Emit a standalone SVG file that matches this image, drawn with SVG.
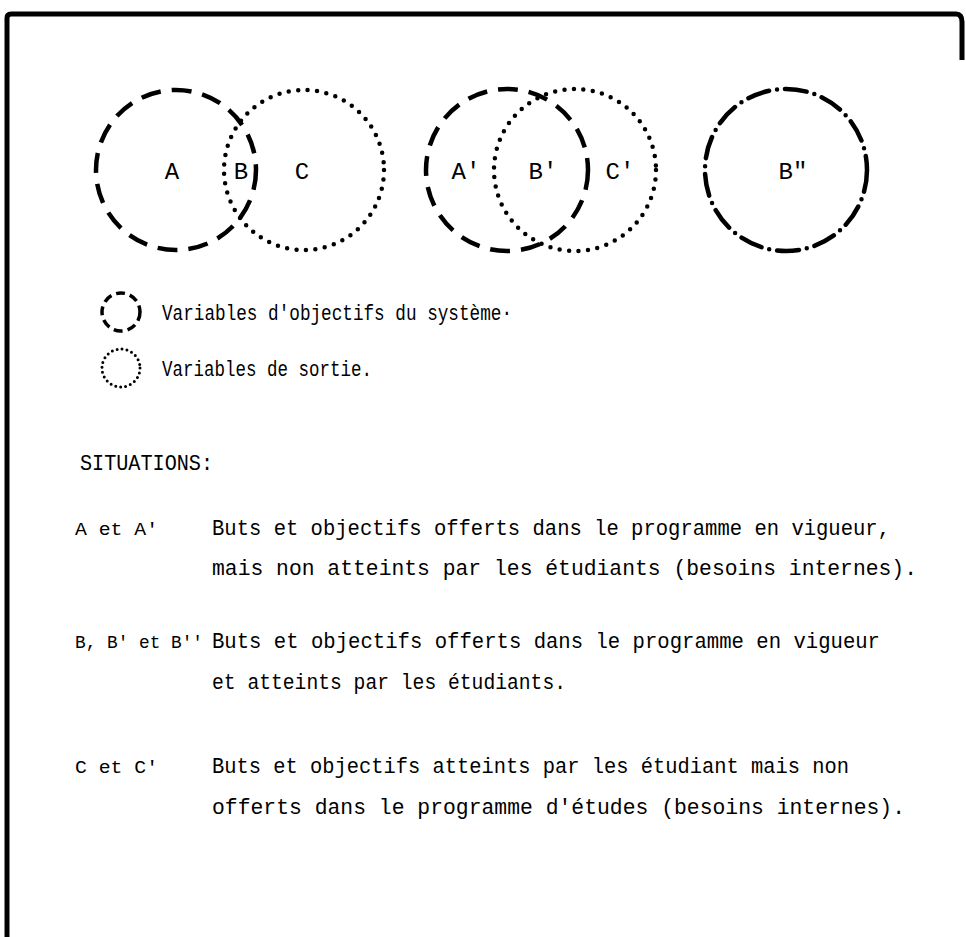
<svg xmlns="http://www.w3.org/2000/svg" width="966" height="937" viewBox="0 0 966 937">
<style>
  .t { font-family: "Liberation Mono", "DejaVu Sans Mono", monospace; font-size: 22px; fill: #000; }
  .k { font-family: "Liberation Mono", "DejaVu Sans Mono", monospace; font-size: 19px; fill: #000; }
  .lbl { font-family: "Liberation Mono", "DejaVu Sans Mono", monospace; font-size: 24px; fill: #000; text-anchor: middle; }
  .dash { fill: none; stroke: #000; stroke-width: 4.5; stroke-dasharray: 20 11; stroke-linecap: butt; }
  .dot { fill: none; stroke: #000; stroke-width: 4.5; stroke-dasharray: 0 9.5; stroke-linecap: round; }
  .dashdot { fill: none; stroke: #000; stroke-width: 4.5; stroke-dasharray: 22 8 0 8; stroke-linecap: round; }
  .sdash { fill: none; stroke: #000; stroke-width: 3.5; stroke-dasharray: 9 5; }
  .sdot { fill: none; stroke: #000; stroke-width: 3; stroke-dasharray: 0 5; stroke-linecap: round; }
</style>
<rect x="0" y="0" width="966" height="937" fill="#fff"/>
<g id="frame">
  <path d="M7,937 V18 Q7,14 11,14 H956 Q962,14 962,22 V60" fill="none" stroke="#000" stroke-width="5"/>
</g>
<g id="node-A"><circle class="dash" cx="176" cy="170" r="80"/><text class="lbl" x="172" y="179">A</text></g>
<g id="node-C"><circle class="dot" cx="304" cy="170" r="80"/><text class="lbl" x="302" y="179">C</text></g>
<g id="node-B"><text class="lbl" x="241" y="179">B</text></g>
<g id="node-A2"><circle class="dash" cx="507" cy="170" r="81"/><text class="lbl" x="466" y="179">A'</text></g>
<g id="node-C2"><circle class="dot" cx="575" cy="170" r="81"/><text class="lbl" x="620" y="179">C'</text></g>
<g id="node-B2"><text class="lbl" x="543" y="179">B'</text></g>
<g id="node-B3"><circle class="dashdot" cx="786" cy="170" r="81"/><text class="lbl" x="793" y="179">B"</text></g>
<g id="legend">
  <circle class="sdash" cx="121" cy="312" r="19"/>
  <text class="t" x="162" y="320" textLength="350" lengthAdjust="spacingAndGlyphs">Variables d'objectifs du système·</text>
  <circle class="sdot" cx="121" cy="368" r="19"/>
  <text class="t" x="162" y="376" textLength="210" lengthAdjust="spacingAndGlyphs">Variables de sortie.</text>
</g>
<g id="situations">
  <text class="t" x="80" y="470" textLength="133" lengthAdjust="spacingAndGlyphs">SITUATIONS:</text>
  <text class="k" x="75" y="535" textLength="83" lengthAdjust="spacingAndGlyphs">A et A'</text>
  <text class="t" x="212" y="535" textLength="678" lengthAdjust="spacingAndGlyphs">Buts et objectifs offerts dans le programme en vigueur,</text>
  <text class="t" x="212" y="575" textLength="705" lengthAdjust="spacingAndGlyphs">mais non atteints par les étudiants (besoins internes).</text>
  <text class="k" x="75" y="648" textLength="128" lengthAdjust="spacingAndGlyphs">B, B' et B''</text>
  <text class="t" x="212" y="648" textLength="668" lengthAdjust="spacingAndGlyphs">Buts et objectifs offerts dans le programme en vigueur</text>
  <text class="t" x="212" y="689" textLength="354" lengthAdjust="spacingAndGlyphs">et atteints par les étudiants.</text>
  <text class="k" x="75" y="773" textLength="83" lengthAdjust="spacingAndGlyphs">C et C'</text>
  <text class="t" x="212" y="773" textLength="637" lengthAdjust="spacingAndGlyphs">Buts et objectifs atteints par les étudiant mais non</text>
  <text class="t" x="212" y="814" textLength="693" lengthAdjust="spacingAndGlyphs">offerts dans le programme d'études (besoins internes).</text>
</g>
</svg>
